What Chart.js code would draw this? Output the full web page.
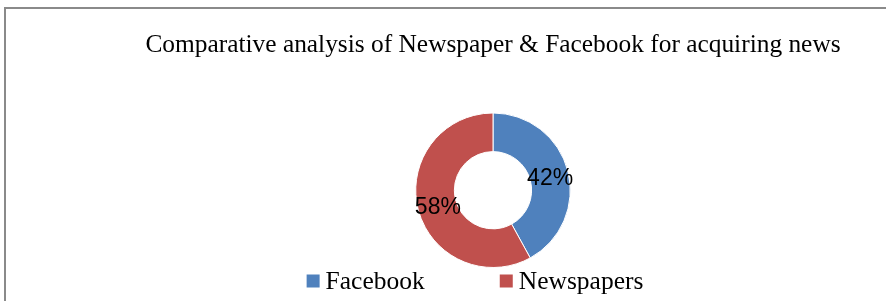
<!DOCTYPE html>
<html>
<head>
<meta charset="utf-8">
<script src="https://cdn.jsdelivr.net/npm/chart.js@4/dist/chart.umd.min.js"></script>
<style>
  html, body { margin: 0; padding: 0; background: #fff; }
  #frame {
    position: absolute; left: 4px; top: 7px; width: 900px; height: 300px;
    border-top: 2px solid #8a8a8a; border-left: 2px solid #8a8a8a;
  }
  #wrap { position: absolute; left: 0; top: 0; width: 886px; height: 301px; }
</style>
</head>
<body>
<div id="frame"></div>
<div id="wrap"><canvas id="c"></canvas></div>
<script>
const categories = ['Facebook', 'Newspapers'];
const shares = [42, 58];
const sliceColors = ['#4F81BD', '#C0504D'];
const chartTitle = 'Comparative analysis of Newspaper & Facebook for acquiring news';

// percentage labels sit in the middle of each ring segment
const sliceLabels = {
  id: 'sliceLabels',
  afterDatasetsDraw(chart) {
    const ctx = chart.ctx;
    const meta = chart.getDatasetMeta(0);
    const total = shares.reduce((a, b) => a + b, 0);
    ctx.save();
    ctx.font = '23px "Liberation Sans Narrow", "Liberation Sans", sans-serif';
    ctx.fillStyle = '#000';
    ctx.textAlign = 'center';
    ctx.textBaseline = 'middle';
    meta.data.forEach((arc, i) => {
      const p = arc.tooltipPosition();
      ctx.fillText(Math.round(shares[i] / total * 100) + '%', p.x + 1, p.y + 3);
    });
    ctx.restore();
  }
};

// legend drawn by hand so the wide gap between the two entries can be kept
const bottomLegend = {
  id: 'bottomLegend',
  afterDraw(chart) {
    const ctx = chart.ctx;
    const box = 13, gapText = 6, gapItems = 75;
    ctx.save();
    ctx.font = '25.5px "Liberation Serif", serif';
    const widths = categories.map(c => box + gapText + ctx.measureText(c).width);
    const total = widths.reduce((a, b) => a + b, 0) + gapItems * (categories.length - 1);
    const mid = (chart.chartArea.left + chart.chartArea.right) / 2 - 18;
    let x = mid - total / 2;
    const y = chart.chartArea.bottom + 13;
    ctx.textBaseline = 'middle';
    categories.forEach((c, i) => {
      ctx.fillStyle = sliceColors[i];
      ctx.fillRect(x, y - box / 2, box, box);
      ctx.fillStyle = '#000';
      ctx.fillText(c, x + box + gapText, y + 1);
      x += widths[i] + gapItems;
    });
    ctx.restore();
  }
};

new Chart(document.getElementById('c'), {
  type: 'doughnut',
  data: {
    labels: categories,
    datasets: [{
      data: shares,
      backgroundColor: sliceColors,
      borderColor: '#ffffff',
      borderWidth: 1,
      hoverOffset: 0
    }]
  },
  options: {
    responsive: true,
    maintainAspectRatio: false,
    animation: false,
    cutout: '50%',
    layout: { padding: { left: 100, right: 0, top: 0, bottom: 33 } },
    plugins: {
      legend: { display: false },
      tooltip: { enabled: false },
      title: {
        display: true,
        text: chartTitle,
        color: '#000',
        font: { family: '"Liberation Serif", serif', size: 25.4, weight: 'normal' },
        padding: { top: 30, bottom: 52 }
      }
    }
  },
  plugins: [sliceLabels, bottomLegend]
});
</script>
</body>
</html>
